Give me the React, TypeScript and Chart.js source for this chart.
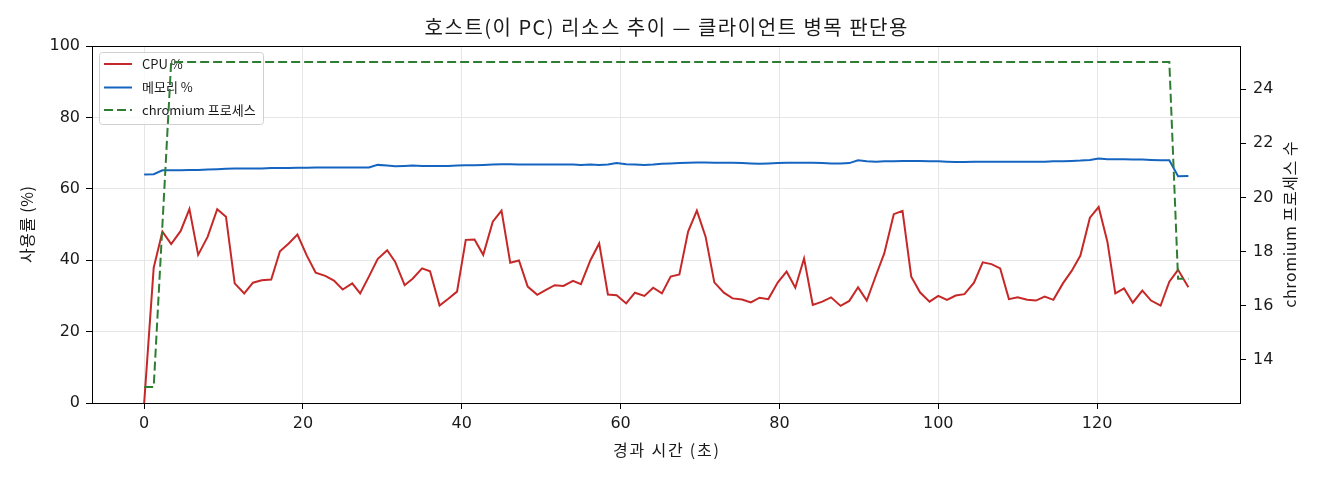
import { useEffect, useRef } from 'react'
import { Chart, registerables } from 'chart.js'
import type { Plugin } from 'chart.js'

Chart.register(...registerables)

const TITLE = '호스트(이 PC) 리소스 추이 — 클라이언트 병목 판단용'
const X_TITLE = '경과 시간 (초)'
const Y_TITLE = '사용률 (%)'
const Y2_TITLE = 'chromium 프로세스 수'

// elapsed seconds for each sample
const elapsed = [
  0, 1.2, 2.3, 3.4, 4.6, 5.7, 6.8, 8.0, 9.2, 10.3,
  11.4, 12.6, 13.7, 14.8, 16.0, 17.1, 18.2, 19.3, 20.5, 21.6,
  22.8, 23.9, 25.0, 26.2, 27.2, 28.3, 29.4, 30.6, 31.6, 32.8,
  33.8, 35.0, 36.0, 37.2, 38.3, 39.4, 40.5, 41.6, 42.7, 43.9,
  45.0, 46.1, 47.2, 48.3, 49.5, 50.6, 51.7, 52.8, 54.0, 55.0,
  56.2, 57.3, 58.4, 59.5, 60.7, 61.8, 63.0, 64.1, 65.2, 66.3,
  67.4, 68.5, 69.6, 70.7, 71.8, 73.0, 74.1, 75.3, 76.4, 77.5,
  78.6, 79.8, 80.9, 82.0, 83.1, 84.2, 85.4, 86.5, 87.7, 88.8,
  89.9, 91.0, 92.2, 93.2, 94.4, 95.5, 96.6, 97.7, 98.9, 100.0,
  101.1, 102.2, 103.3, 104.5, 105.6, 106.7, 107.8, 108.9, 110.0, 111.2,
  112.3, 113.4, 114.5, 115.7, 116.8, 117.9, 119.1, 120.2, 121.3, 122.3,
  123.4, 124.5, 125.7, 126.8, 128.0, 129.1, 130.2, 131.5
]

const cpuPct = [
  0, 37.9, 48.0, 44.5, 48.2, 54.3, 41.5, 46.6, 54.3, 52.2,
  33.5, 30.7, 33.7, 34.4, 34.6, 42.5, 44.7, 47.2, 41.2, 36.5,
  35.6, 34.3, 31.8, 33.5, 30.7, 35.4, 40.3, 42.8, 39.6, 33.0,
  34.8, 37.7, 36.9, 27.3, 29.2, 31.2, 45.7, 45.8, 41.5, 50.8,
  53.9, 39.3, 39.9, 32.6, 30.3, 31.7, 33.0, 32.8, 34.2, 33.3,
  40.0, 44.7, 30.4, 30.2, 27.9, 30.9, 30.0, 32.3, 30.7, 35.4,
  36.0, 48.0, 53.9, 46.6, 33.8, 30.9, 29.3, 29.0, 28.2, 29.5,
  29.1, 33.8, 36.8, 32.3, 40.5, 27.5, 28.4, 29.6, 27.2, 28.6,
  32.4, 28.7, 36.0, 41.9, 52.9, 53.8, 35.4, 31.0, 28.4, 30.0,
  28.9, 30.1, 30.5, 33.7, 39.4, 38.9, 37.7, 29.1, 29.6, 28.9,
  28.7, 29.8, 28.9, 33.5, 37.0, 41.3, 51.9, 54.9, 45.2, 30.7,
  32.1, 28.1, 31.5, 28.7, 27.3, 34.0, 37.3, 32.4
]

const memPct = [
  64.0, 64.1, 65.2, 65.2, 65.2, 65.3, 65.3, 65.4, 65.5, 65.6,
  65.7, 65.7, 65.7, 65.7, 65.8, 65.8, 65.8, 65.9, 65.9, 66.0,
  66.0, 66.0, 66.0, 66.0, 66.0, 66.0, 66.7, 66.5, 66.3, 66.4,
  66.5, 66.4, 66.4, 66.4, 66.4, 66.5, 66.6, 66.6, 66.7, 66.8,
  66.9, 66.9, 66.8, 66.8, 66.8, 66.8, 66.8, 66.8, 66.8, 66.7,
  66.8, 66.7, 66.8, 67.2, 66.9, 66.8, 66.7, 66.8, 67.0, 67.1,
  67.2, 67.3, 67.4, 67.4, 67.3, 67.3, 67.3, 67.2, 67.1, 67.0,
  67.1, 67.2, 67.3, 67.3, 67.3, 67.3, 67.2, 67.1, 67.1, 67.2,
  68.0, 67.7, 67.6, 67.7, 67.7, 67.8, 67.8, 67.8, 67.7, 67.7,
  67.6, 67.5, 67.5, 67.6, 67.6, 67.6, 67.6, 67.6, 67.6, 67.6,
  67.6, 67.6, 67.7, 67.7, 67.8, 67.9, 68.1, 68.5, 68.3, 68.3,
  68.3, 68.2, 68.2, 68.1, 68.0, 68.0, 63.5, 63.6
]

const chromiumCount = [
  13, 13, 19, 25, 25, 25, 25, 25, 25, 25,
  25, 25, 25, 25, 25, 25, 25, 25, 25, 25,
  25, 25, 25, 25, 25, 25, 25, 25, 25, 25,
  25, 25, 25, 25, 25, 25, 25, 25, 25, 25,
  25, 25, 25, 25, 25, 25, 25, 25, 25, 25,
  25, 25, 25, 25, 25, 25, 25, 25, 25, 25,
  25, 25, 25, 25, 25, 25, 25, 25, 25, 25,
  25, 25, 25, 25, 25, 25, 25, 25, 25, 25,
  25, 25, 25, 25, 25, 25, 25, 25, 25, 25,
  25, 25, 25, 25, 25, 25, 25, 25, 25, 25,
  25, 25, 25, 25, 25, 25, 25, 25, 25, 25,
  25, 25, 25, 25, 25, 25, 17, 17
]

const xTicks = [0, 20, 40, 60, 80, 100, 120]
const yTicks = [0, 20, 40, 60, 80, 100]
const y2Ticks = [14, 16, 18, 20, 22, 24]

const seriesLabels = ['CPU %', '메모리 %', 'chromium 프로세스']
const seriesColors = ['#c62828', '#1565c0', '#2e7d32']
const GREEN_DASH = [9, 4]

const TEXT_FONT = '"Noto Sans CJK KR", sans-serif'
const TICK_FONT = '"DejaVu Sans", "Noto Sans CJK KR", sans-serif'
const INK = '#1a1a1a'

const toPoints = (ys: number[]) => elapsed.map((x, i) => ({ x, y: ys[i] }))

// draw text with extra spacing between glyphs (canvas letterSpacing)
function spacedText(ctx: any, text: string, x: number, y: number, spacing: number) {
  ctx.letterSpacing = `${spacing}px`
  ctx.fillText(text, x + spacing / 2, y)
  ctx.letterSpacing = '0px'
}

// legend inside the plot, frame, title and axis titles
const decorations: Plugin = {
  id: 'decorations',
  beforeDatasetsDraw(chart) {
    const { ctx, chartArea: a } = chart
    const bx = a.left + 7
    const by = a.top + 6
    const bw = 164
    const bh = 72
    ctx.save()
    ctx.beginPath()
    ctx.roundRect(bx + 0.5, by + 0.5, bw, bh, 3)
    ctx.fillStyle = 'rgba(255,255,255,0.8)'
    ctx.fill()
    ctx.strokeStyle = '#d0d0d0'
    ctx.lineWidth = 1
    ctx.stroke()
    ctx.font = `13px ${TEXT_FONT}`
    ctx.textBaseline = 'middle'
    ctx.textAlign = 'left'
    const rows = [12, 35.5, 58]
    seriesLabels.forEach((label, i) => {
      const y = by + rows[i]
      ctx.beginPath()
      ctx.setLineDash(i === 2 ? GREEN_DASH : [])
      ctx.strokeStyle = seriesColors[i]
      ctx.lineWidth = 2
      ctx.moveTo(bx + 5, y)
      ctx.lineTo(bx + 33, y)
      ctx.stroke()
      ctx.fillStyle = INK
      ctx.fillText(label, bx + 43, y)
    })
    ctx.restore()
  },
  afterDraw(chart) {
    const { ctx, chartArea: a } = chart
    ctx.save()
    ctx.strokeStyle = '#000'
    ctx.lineWidth = 1
    ctx.setLineDash([])
    ctx.strokeRect(a.left + 0.5, a.top + 0.5, a.right - a.left, a.bottom - a.top)

    const cx = (a.left + a.right) / 2
    const cy = (a.top + a.bottom) / 2
    ctx.fillStyle = INK
    ctx.textAlign = 'center'
    ctx.textBaseline = 'middle'
    ctx.font = `20px ${TEXT_FONT}`
    spacedText(ctx, TITLE, cx, 27, 1.5)
    ctx.font = `16px ${TEXT_FONT}`
    spacedText(ctx, X_TITLE, cx, 450, 1.8)

    ctx.save()
    ctx.translate(27, cy)
    ctx.rotate(-Math.PI / 2)
    spacedText(ctx, Y_TITLE, 0, 0, 0.6)
    ctx.restore()

    ctx.save()
    ctx.translate(1290, cy)
    ctx.rotate(-Math.PI / 2)
    spacedText(ctx, Y2_TITLE, 0, 0, 0.6)
    ctx.restore()
    ctx.restore()
  }
}

export default function App() {
  const canvasRef = useRef<HTMLCanvasElement>(null)

  useEffect(() => {
    if (!canvasRef.current) return

    const tickFont = { family: TICK_FONT, size: 16 }

    const chart = new Chart(canvasRef.current, {
      type: 'line',
      data: {
        datasets: [
          {
            label: seriesLabels[0],
            data: toPoints(cpuPct),
            borderColor: seriesColors[0],
            borderWidth: 2,
            yAxisID: 'y',
            order: 1
          },
          {
            label: seriesLabels[1],
            data: toPoints(memPct),
            borderColor: seriesColors[1],
            borderWidth: 2,
            yAxisID: 'y',
            order: 2
          },
          {
            label: seriesLabels[2],
            data: toPoints(chromiumCount),
            borderColor: seriesColors[2],
            borderWidth: 2,
            borderDash: GREEN_DASH,
            yAxisID: 'y1',
            order: 0
          }
        ]
      },
      options: {
        responsive: false,
        animation: false,
        layout: { padding: { top: 46, left: 0, right: 0, bottom: 0 } },
        elements: {
          point: { radius: 0, hoverRadius: 0 },
          line: { tension: 0, fill: false, borderCapStyle: 'butt' }
        },
        plugins: {
          legend: { display: false },
          title: { display: false },
          tooltip: { enabled: false }
        },
        scales: {
          x: {
            type: 'linear',
            min: -6.57,
            max: 138.0,
            afterBuildTicks: (s: any) => {
              s.ticks = xTicks.map(value => ({ value }))
            },
            afterFit: (s: any) => {
              s.height = 77
            },
            border: { display: false },
            grid: { color: '#e6e6e6', lineWidth: 1, tickColor: '#000', tickLength: 6 },
            ticks: { font: tickFont, color: INK, padding: 5, maxRotation: 0, autoSkip: false }
          },
          y: {
            position: 'left',
            min: 0,
            max: 100,
            afterBuildTicks: (s: any) => {
              s.ticks = yTicks.map(value => ({ value }))
            },
            afterFit: (s: any) => {
              s.width = 92
            },
            border: { display: false },
            grid: { color: '#e6e6e6', lineWidth: 1, tickColor: '#000', tickLength: 6 },
            ticks: { font: tickFont, color: INK, padding: 6 }
          },
          y1: {
            position: 'right',
            min: 12.41,
            max: 25.59,
            afterBuildTicks: (s: any) => {
              s.ticks = y2Ticks.map(value => ({ value }))
            },
            afterFit: (s: any) => {
              s.width = 80
            },
            border: { display: false },
            grid: { drawOnChartArea: false, tickColor: '#000', tickLength: 6 },
            ticks: { font: tickFont, color: INK, padding: 7 }
          }
        }
      },
      plugins: [decorations]
    })

    return () => chart.destroy()
  }, [])

  return (
    <div style={{ position: 'fixed', left: 0, top: 0, width: 1320, height: 480, background: '#fff' }}>
      <canvas ref={canvasRef} width={1320} height={480} />
    </div>
  )
}
